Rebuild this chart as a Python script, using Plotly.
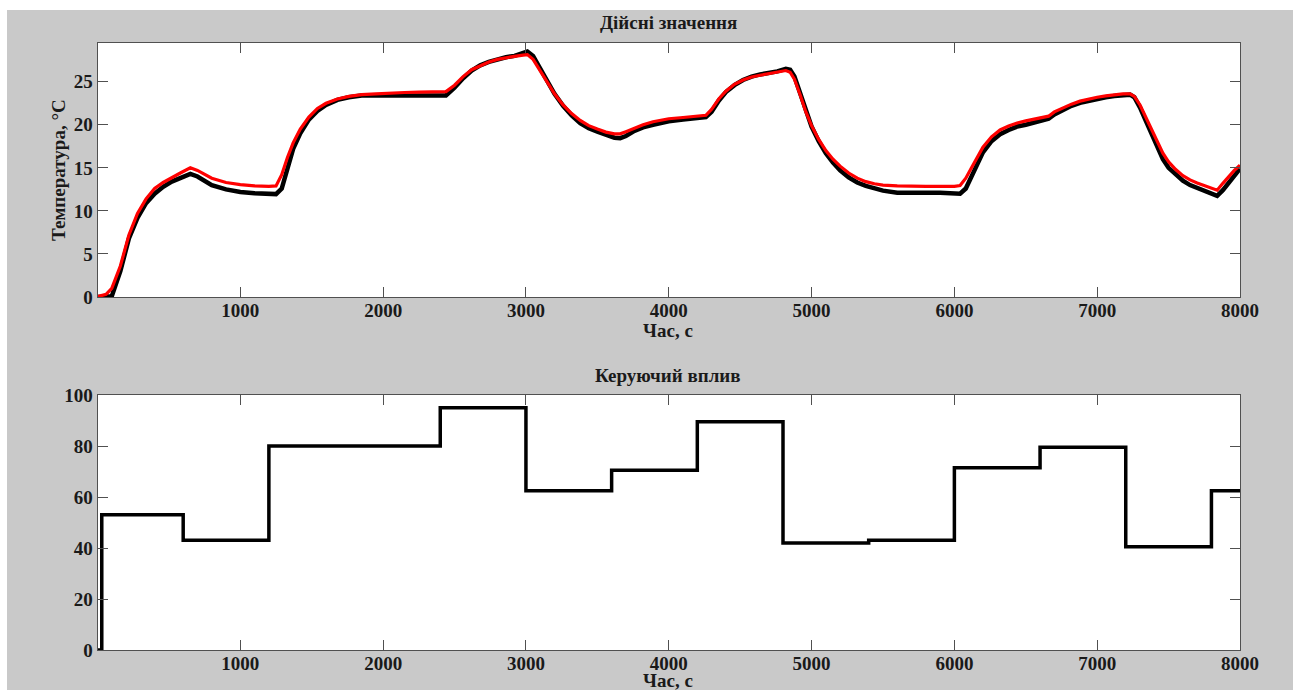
import plotly.graph_objects as go

# --- temperature response (time in seconds) ---
time_s = [0, 60, 100, 160, 220, 280, 340, 400, 460, 520, 580, 650, 700, 800, 900,
          1000, 1100, 1200, 1250, 1290, 1330, 1370, 1420, 1480, 1540, 1600, 1680,
          1760, 1850, 1950, 2050, 2150, 2250, 2350, 2440, 2500, 2560, 2620, 2680,
          2740, 2800, 2860, 2920, 2980, 3010, 3050, 3100, 3150, 3200, 3260, 3320,
          3380, 3440, 3500, 3560, 3620, 3660, 3700, 3760, 3820, 3890, 3950, 4000,
          4100, 4200, 4260, 4300, 4350, 4400, 4460, 4520, 4580, 4640, 4700, 4760,
          4820, 4850, 4880, 4920, 4960, 5000, 5050, 5100, 5150, 5200, 5260, 5320,
          5380, 5440, 5500, 5600, 5700, 5800, 5900, 6000, 6040, 6080, 6120, 6160,
          6200, 6260, 6320, 6380, 6440, 6500, 6560, 6620, 6660, 6700, 6760, 6820,
          6880, 6940, 7000, 7060, 7120, 7180, 7230, 7260, 7300, 7340, 7380, 7420,
          7460, 7500, 7550, 7600, 7650, 7700, 7750, 7800, 7840, 7880, 7920, 7960,
          8000]

temp_measured = [0, 0, 0.1, 3.0, 6.8, 9.2, 10.9, 12.0, 12.8, 13.4, 13.8, 14.3, 14.0,
                 13.0, 12.5, 12.2, 12.05, 12.0, 11.95, 12.6, 15.0, 17.2, 19.0, 20.6,
                 21.6, 22.3, 22.9, 23.2, 23.4, 23.4, 23.3, 23.3, 23.3, 23.35, 23.4,
                 24.3, 25.4, 26.3, 26.9, 27.3, 27.6, 27.85, 28.0, 28.3, 28.5, 28.0,
                 26.6, 25.0, 23.6, 22.2, 21.1, 20.2, 19.6, 19.2, 18.8, 18.5, 18.45,
                 18.7, 19.3, 19.7, 20.0, 20.25, 20.4, 20.6, 20.75, 20.9, 21.5, 22.8,
                 23.8, 24.6, 25.2, 25.6, 25.85, 26.0, 26.2, 26.5, 26.4, 25.6, 23.6,
                 21.5, 19.8, 18.1, 16.7, 15.6, 14.7, 13.9, 13.3, 12.9, 12.6, 12.35,
                 12.1, 12.05, 12.1, 12.1, 12.1, 12.0, 12.6, 14.0, 15.5, 16.8, 18.1,
                 18.9, 19.4, 19.8, 20.0, 20.25, 20.5, 20.7, 21.2, 21.7, 22.2, 22.55,
                 22.8, 23.0, 23.2, 23.35, 23.5, 23.5, 23.2, 22.0, 20.5, 19.0, 17.4,
                 16.0, 15.0, 14.2, 13.5, 13.0, 12.7, 12.4, 12.1, 11.75, 12.4, 13.3,
                 14.1, 14.9]

temp_model = [0.05, 0.3, 1.0, 3.6, 7.2, 9.7, 11.4, 12.6, 13.3, 13.9, 14.4, 15.0, 14.7,
              13.8, 13.3, 13.05, 12.9, 12.85, 12.9, 14.2, 16.2, 17.9, 19.5, 20.9,
              21.9, 22.5, 23.0, 23.3, 23.5, 23.6, 23.7, 23.75, 23.8, 23.8, 23.85,
              24.6, 25.6, 26.4, 26.9, 27.3, 27.6, 27.8, 27.95, 28.1, 28.15, 27.6,
              26.3, 24.9, 23.6, 22.3, 21.3, 20.5, 19.9, 19.5, 19.15, 18.95, 18.95,
              19.2, 19.6, 20.0, 20.35, 20.55, 20.7, 20.85, 20.95, 21.1, 21.8, 23.0,
              23.9, 24.7, 25.2, 25.55, 25.75, 25.95, 26.1, 26.3, 26.1, 25.3, 23.5,
              21.5, 19.9, 18.3, 17.0, 16.0, 15.2, 14.4, 13.8, 13.4, 13.15, 13.0,
              12.9, 12.85, 12.85, 12.85, 12.85, 12.95, 13.8, 15.0, 16.3, 17.4, 18.6,
              19.4, 19.85, 20.2, 20.45, 20.65, 20.85, 21.0, 21.5, 22.0, 22.4, 22.75,
              23.0, 23.2, 23.35, 23.5, 23.6, 23.6, 23.3, 22.3, 20.9, 19.5, 18.0,
              16.7, 15.7, 14.8, 14.1, 13.6, 13.25, 12.95, 12.6, 12.4, 13.2, 14.0,
              14.7, 15.3]

# --- control signal (piecewise constant) ---
control_time = [0, 30, 600, 1200, 2400, 3000, 3600, 4200, 4800, 5400, 6000, 6600,
                7200, 7800, 8000]
control_value = [0, 53, 43, 80, 95, 62.5, 70.5, 89.5, 42, 43, 71.5, 79.5, 40.5,
                 62.5, 62.5]

# --- labels ---
title_top = "Дійсні значення"
title_bottom = "Керуючий вплив"
x_label = "Час, с"
y_label_top = "Температура, °C"
x_ticks = [1000, 2000, 3000, 4000, 5000, 6000, 7000, 8000]
y_ticks_top = [0, 5, 10, 15, 20, 25]
y_ticks_bottom = [0, 20, 40, 60, 80, 100]

W, H = 1298, 690
FONT = "Liberation Serif"
TXT = "#1a1a1a"
FRAME = "#505050"
BG = "#c9c9c9"


def fx(p):
    """canvas pixel column -> paper fraction"""
    return p / W


def fy(p):
    """canvas pixel row (from top) -> paper fraction"""
    return (H - p) / H


x_dom = [fx(97.5), fx(1240)]
y_dom_top = [fy(297), fy(43)]
y_dom_bot = [fy(650), fy(395)]

fig = go.Figure()

fig.add_trace(go.Scatter(x=time_s, y=temp_measured, mode="lines",
                         line=dict(color="black", width=4.5),
                         xaxis="x", yaxis="y", showlegend=False))
fig.add_trace(go.Scatter(x=time_s, y=temp_model, mode="lines",
                         line=dict(color="#ff0000", width=3.2),
                         xaxis="x", yaxis="y", showlegend=False))
fig.add_trace(go.Scatter(x=control_time, y=control_value, mode="lines",
                         line=dict(color="black", width=3.5, shape="hv"),
                         xaxis="x2", yaxis="y2", showlegend=False))

tick_font = dict(family=FONT, size=19, color=TXT, weight="bold")
label_font = dict(family=FONT, size=19, color=TXT, weight="bold")

axis_common = dict(showgrid=False, zeroline=False, showline=True,
                   linecolor=FRAME, linewidth=1, mirror="ticks",
                   ticks="inside", tickcolor=FRAME, tickwidth=1,
                   tickfont=tick_font, automargin=False)

fig.update_layout(
    width=W, height=H,
    margin=dict(l=0, r=0, t=0, b=0, pad=0, autoexpand=False),
    paper_bgcolor=BG,
    plot_bgcolor="white",
    xaxis=dict(domain=x_dom, range=[0, 8000], anchor="y",
               tickvals=x_ticks, ticklen=10, ticklabelstandoff=-4, **axis_common),
    yaxis=dict(domain=y_dom_top, range=[0, 29.5], anchor="x",
               tickvals=y_ticks_top, ticklen=10, **axis_common),
    xaxis2=dict(domain=x_dom, range=[0, 8000], anchor="y2",
                tickvals=x_ticks, ticklen=10, ticklabelstandoff=-4, **axis_common),
    yaxis2=dict(domain=y_dom_bot, range=[0, 100], anchor="x2",
                tickvals=y_ticks_bottom, ticklen=10, **axis_common),
    shapes=[
        # thin white border along the top, left and right edges of the canvas
        dict(type="rect", xref="paper", yref="paper", x0=0, x1=1,
             y0=fy(10), y1=1, fillcolor="white", line=dict(width=0), layer="below"),
        dict(type="rect", xref="paper", yref="paper", x0=0, x1=fx(7),
             y0=0, y1=1, fillcolor="white", line=dict(width=0), layer="below"),
        dict(type="rect", xref="paper", yref="paper", x0=fx(1293), x1=1,
             y0=0, y1=1, fillcolor="white", line=dict(width=0), layer="below"),
    ],
    annotations=[
        dict(text=title_top, xref="paper", yref="paper", x=fx(668), y=fy(23),
             showarrow=False, xanchor="center", yanchor="middle", font=label_font),
        dict(text=title_bottom, xref="paper", yref="paper", x=fx(668), y=fy(375),
             showarrow=False, xanchor="center", yanchor="middle", font=label_font),
        dict(text=x_label, xref="paper", yref="paper", x=fx(668), y=fy(330),
             showarrow=False, xanchor="center", yanchor="middle", font=label_font),
        dict(text=x_label, xref="paper", yref="paper", x=fx(668), y=fy(680),
             showarrow=False, xanchor="center", yanchor="middle", font=label_font),
        dict(text=y_label_top, xref="paper", yref="paper", x=fx(58), y=fy(170),
             showarrow=False, xanchor="center", yanchor="middle", textangle=-90,
             font=label_font),
    ],
)

fig.write_html("out.html")
